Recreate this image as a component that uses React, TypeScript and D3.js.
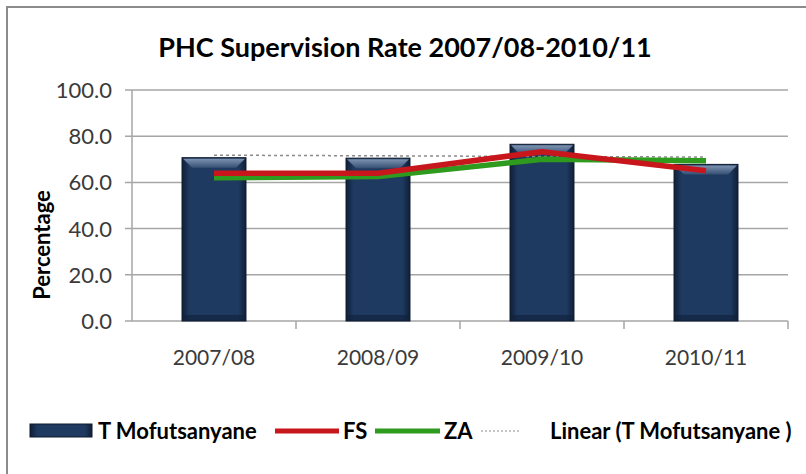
import * as d3 from "d3";
import { useEffect, useRef } from "react";

const categories = ["2007/08", "2008/09", "2009/10", "2010/11"];
const mofutsanyane = [70.7, 70.5, 76.5, 67.8];
const fsValues = [64.0, 64.0, 73.3, 65.0];
const zaValues = [62.0, 62.5, 70.0, 69.4];
const yTicks = [0, 20, 40, 60, 80, 100];

const W = 806;
const H = 474;
const FONT = "Lato, 'Open Sans', sans-serif";

const App = () => {
  const ref = useRef<SVGSVGElement>(null);

  useEffect(() => {
    const svg = d3.select(ref.current);
    const left = 132;
    const right = 788;
    const top = 90;
    const bottom = 321;

    const x = d3.scaleBand().domain(categories).range([left, right]).padding(0);
    const y = d3.scaleLinear().domain([0, 100]).range([bottom, top]);
    const cx = (c: string) => (x(c) as number) + x.bandwidth() / 2;
    const barW = x.bandwidth() * 0.39;

    const defs = svg.append("defs");
    const grad = defs
      .append("linearGradient")
      .attr("id", "barGrad")
      .attr("x1", "0")
      .attr("x2", "1")
      .attr("y1", "0")
      .attr("y2", "0");
    grad.append("stop").attr("offset", "0").attr("stop-color", "#0f1f38");
    grad.append("stop").attr("offset", "0.12").attr("stop-color", "#1f3a60");
    grad.append("stop").attr("offset", "0.88").attr("stop-color", "#1f3a60");
    grad.append("stop").attr("offset", "1").attr("stop-color", "#0f1f38");
    const bev = defs
      .append("linearGradient")
      .attr("id", "bevGrad")
      .attr("x1", "0")
      .attr("x2", "0")
      .attr("y1", "0")
      .attr("y2", "1");
    bev.append("stop").attr("offset", "0").attr("stop-color", "#8ea3c0");
    bev.append("stop").attr("offset", "1").attr("stop-color", "#3a5478");

    // background + frame
    svg.append("rect").attr("width", W).attr("height", H).attr("fill", "#ffffff");
    svg
      .append("rect")
      .attr("x", 7)
      .attr("y", 7)
      .attr("width", W + 20)
      .attr("height", H + 20)
      .attr("fill", "none")
      .attr("stroke", "#8c8c8c")
      .attr("stroke-width", 2);

    // title
    svg
      .append("text")
      .attr("x", 405)
      .attr("y", 57)
      .attr("text-anchor", "middle")
      .attr("font-family", FONT)
      .attr("font-weight", "bold")
      .attr("font-size", 27)
      .attr("fill", "#000")
      .text("PHC Supervision Rate 2007/08-2010/11");

    // gridlines
    svg
      .append("g")
      .selectAll("line")
      .data(yTicks)
      .enter()
      .append("line")
      .attr("x1", left - 7)
      .attr("x2", right)
      .attr("y1", (d) => y(d))
      .attr("y2", (d) => y(d))
      .attr("stroke", "#a6a6a6")
      .attr("stroke-width", 1.5);

    // y axis
    svg
      .append("line")
      .attr("x1", left)
      .attr("x2", left)
      .attr("y1", top)
      .attr("y2", bottom)
      .attr("stroke", "#a6a6a6")
      .attr("stroke-width", 1.5);

    svg
      .append("g")
      .selectAll("text")
      .data(yTicks)
      .enter()
      .append("text")
      .attr("x", 112)
      .attr("y", (d) => y(d) + 8)
      .attr("text-anchor", "end")
      .attr("font-family", FONT)
      .attr("font-size", 22)
      .attr("fill", "#3a3a3a")
      .text((d) => d.toFixed(1));

    svg
      .append("text")
      .attr("transform", `translate(50, 245) rotate(-90)`)
      .attr("text-anchor", "middle")
      .attr("font-family", FONT)
      .attr("font-weight", "bold")
      .attr("font-size", 22)
      .attr("fill", "#000")
      .text("Percentage");

    // x ticks
    svg
      .append("g")
      .selectAll("line")
      .data(categories)
      .enter()
      .append("line")
      .attr("x1", (d) => (x(d) as number) + x.bandwidth())
      .attr("x2", (d) => (x(d) as number) + x.bandwidth())
      .attr("y1", bottom)
      .attr("y2", bottom + 8)
      .attr("stroke", "#a6a6a6")
      .attr("stroke-width", 1.5);

    svg
      .append("g")
      .selectAll("text")
      .data(categories)
      .enter()
      .append("text")
      .attr("x", (d) => cx(d))
      .attr("y", 365)
      .attr("text-anchor", "middle")
      .attr("font-family", FONT)
      .attr("font-size", 21)
      .attr("fill", "#3a3a3a")
      .text((d) => d);

    // bars
    const bars = svg
      .append("g")
      .selectAll("g")
      .data(categories.map((c, i) => ({ c, v: mofutsanyane[i] })))
      .enter()
      .append("g");
    bars
      .append("rect")
      .attr("x", (d) => cx(d.c) - barW / 2)
      .attr("y", (d) => y(d.v))
      .attr("width", barW)
      .attr("height", (d) => bottom - y(d.v))
      .attr("fill", "url(#barGrad)")
      .attr("stroke", "#0d1a2e")
      .attr("stroke-width", 1);
    bars
      .append("path")
      .attr("d", (d) => {
        const x0 = cx(d.c) - barW / 2 + 1;
        const x1 = cx(d.c) + barW / 2 - 1;
        const t = y(d.v) + 1;
        return `M${x0},${t}L${x1},${t}L${x1 - 9},${t + 9}L${x0 + 9},${t + 9}Z`;
      })
      .attr("fill", "url(#bevGrad)")
      .attr("opacity", 0.85);
    bars
      .append("rect")
      .attr("x", (d) => cx(d.c) - barW / 2)
      .attr("y", bottom - 6)
      .attr("width", barW)
      .attr("height", 6)
      .attr("fill", "#0f1f38")
      .attr("opacity", 0.6);

    // linear trend of T Mofutsanyane
    const idx = mofutsanyane.map((_, i) => i + 1);
    const mx = d3.mean(idx) as number;
    const my = d3.mean(mofutsanyane) as number;
    const slope =
      d3.sum(idx.map((xi, i) => (xi - mx) * (mofutsanyane[i] - my))) /
      d3.sum(idx.map((xi) => (xi - mx) ** 2));
    const trend = idx.map((xi) => my + slope * (xi - mx));

    const line = d3
      .line<number>()
      .x((_, i) => cx(categories[i]))
      .y((d) => y(d));

    svg
      .append("path")
      .attr("d", line(trend))
      .attr("fill", "none")
      .attr("stroke", "#8a8a8a")
      .attr("stroke-width", 1.5)
      .attr("stroke-dasharray", "3,3");

    svg
      .append("path")
      .attr("d", line(zaValues))
      .attr("fill", "none")
      .attr("stroke", "#2e9a1e")
      .attr("stroke-width", 5.5)
      .attr("stroke-linejoin", "round");

    svg
      .append("path")
      .attr("d", line(fsValues))
      .attr("fill", "none")
      .attr("stroke", "#c8161d")
      .attr("stroke-width", 5.5)
      .attr("stroke-linejoin", "round");

    // legend
    const lg = svg
      .append("g")
      .attr("font-family", FONT)
      .attr("font-weight", "bold")
      .attr("font-size", 22);
    lg.append("rect")
      .attr("x", 30)
      .attr("y", 424)
      .attr("width", 62)
      .attr("height", 13)
      .attr("fill", "url(#barGrad)")
      .attr("stroke", "#0d1a2e");
    lg.append("text").attr("x", 98).attr("y", 439).text("T Mofutsanyane");
    lg.append("line")
      .attr("x1", 275)
      .attr("x2", 339)
      .attr("y1", 431)
      .attr("y2", 431)
      .attr("stroke", "#c8161d")
      .attr("stroke-width", 5);
    lg.append("text").attr("x", 343).attr("y", 439).text("FS");
    lg.append("line")
      .attr("x1", 375)
      .attr("x2", 440)
      .attr("y1", 431)
      .attr("y2", 431)
      .attr("stroke", "#2e9a1e")
      .attr("stroke-width", 5);
    lg.append("text").attr("x", 444).attr("y", 439).text("ZA");
    lg.append("line")
      .attr("x1", 481)
      .attr("x2", 520)
      .attr("y1", 431)
      .attr("y2", 431)
      .attr("stroke", "#8a8a8a")
      .attr("stroke-width", 1.2)
      .attr("stroke-dasharray", "2,2");
    lg.append("text").attr("x", 550).attr("y", 439).text("Linear (T Mofutsanyane )");

    return () => {
      svg.selectAll("*").remove();
    };
  }, []);

  return (
    <svg
      ref={ref}
      width={W}
      height={H}
      style={{ position: "absolute", left: 0, top: 0, display: "block" }}
    />
  );
};

export default App;
